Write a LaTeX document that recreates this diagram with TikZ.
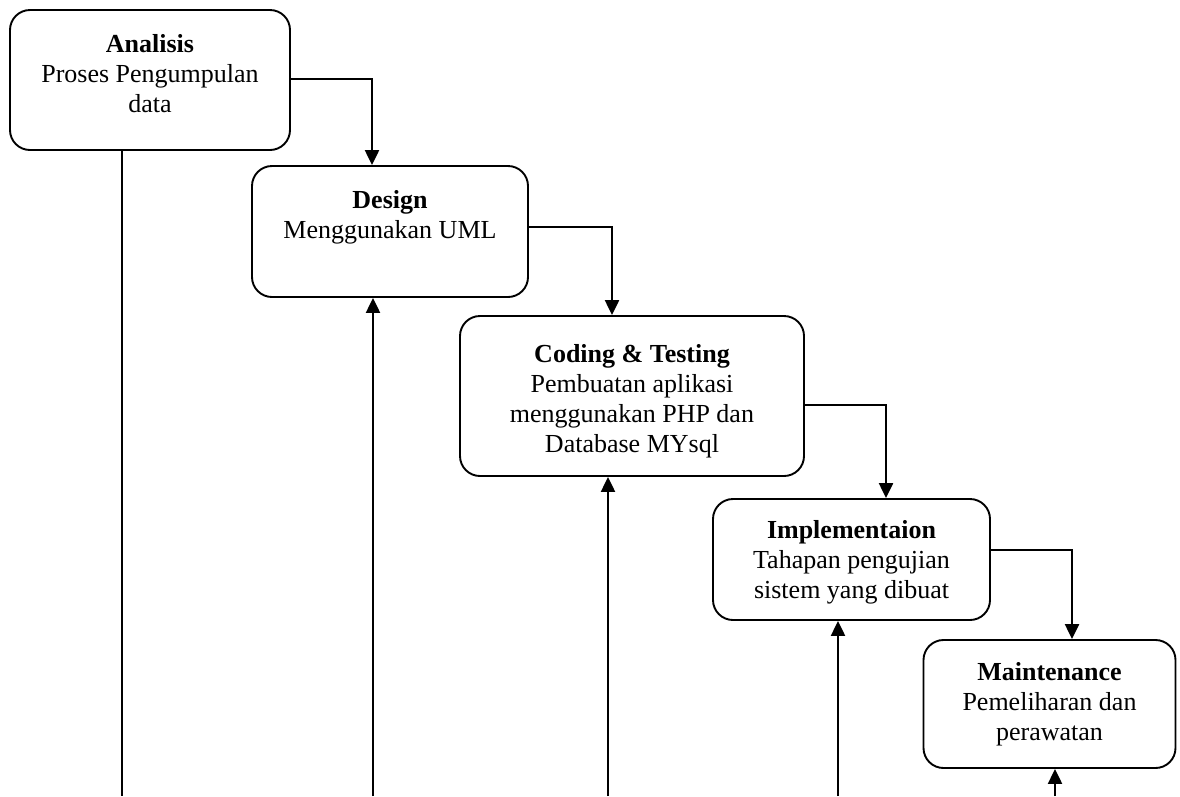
\documentclass[tikz,border=0pt]{standalone}
\usepackage{fontspec}
\setmainfont{Liberation Serif}
\usetikzlibrary{arrows.meta}
\tikzset{
  box/.style={draw, line width=1.9pt, rounded corners=20pt, inner sep=0pt},
  lbl/.style={align=center, font=\fontsize{26}{30}\selectfont, inner sep=0pt, anchor=base},
  arr/.style={line width=2.3pt, -{Triangle[length=15pt,width=14pt]}},
  plain/.style={line width=1.6pt},
}
\begin{document}
\begin{tikzpicture}[x=1pt, y=-1pt]
\useasboundingbox (0,0) rectangle (1180,796);
% boxes
\node[box, minimum width=280pt, minimum height=140pt] (ana) at (150,80) {};
\node[box, minimum width=276pt, minimum height=131pt] (des) at (390,231.5) {};
\node[box, minimum width=344pt, minimum height=160pt] (cod) at (632,396) {};
\node[box, minimum width=277pt, minimum height=121pt] (imp) at (851.5,559.5) {};
\node[box, minimum width=252pt, minimum height=128pt] (mai) at (1049.5,704) {};
% texts (anchor = baseline of last line)
\node[lbl] (anat) at (150,112) {\textbf{Analisis}\\Proses Pengumpulan\\data};
\node[lbl] (dest) at (390,238) {\textbf{Design}\\Menggunakan UML};
\node[lbl] (codt) at (632,452) {\textbf{Coding \& Testing}\\Pembuatan aplikasi\\menggunakan PHP dan\\Database MYsql};
\node[lbl] (impt) at (851.5,598) {\textbf{Implementaion}\\Tahapan pengujian\\sistem yang dibuat};
\node[lbl] (mait) at (1049.5,740) {\textbf{Maintenance}\\Pemeliharan dan\\perawatan};
% forward connectors
\draw[arr] (ana.east |- 0,79) -| (des.north -| 372,0);
\draw[arr] (des.east |- 0,227) -| (cod.north -| 612,0);
\draw[arr] (cod.east |- 0,405) -| (imp.north -| 886,0);
\draw[arr] (imp.east |- 0,550) -| (mai.north -| 1072,0);
% bottom lines
\coordinate (b1) at (122,796);
\coordinate (b2) at (373,796);
\coordinate (b3) at (608,796);
\coordinate (b4) at (838,796);
\coordinate (b5) at (1055,796);
\draw[plain] (ana.south -| b1) -- (b1);
\draw[arr] (b2) -- (des.south -| b2);
\draw[arr] (b3) -- (cod.south -| b3);
\draw[arr] (b4) -- (imp.south -| b4);
\draw[arr] (b5) -- (mai.south -| b5);
\end{tikzpicture}
\end{document}
